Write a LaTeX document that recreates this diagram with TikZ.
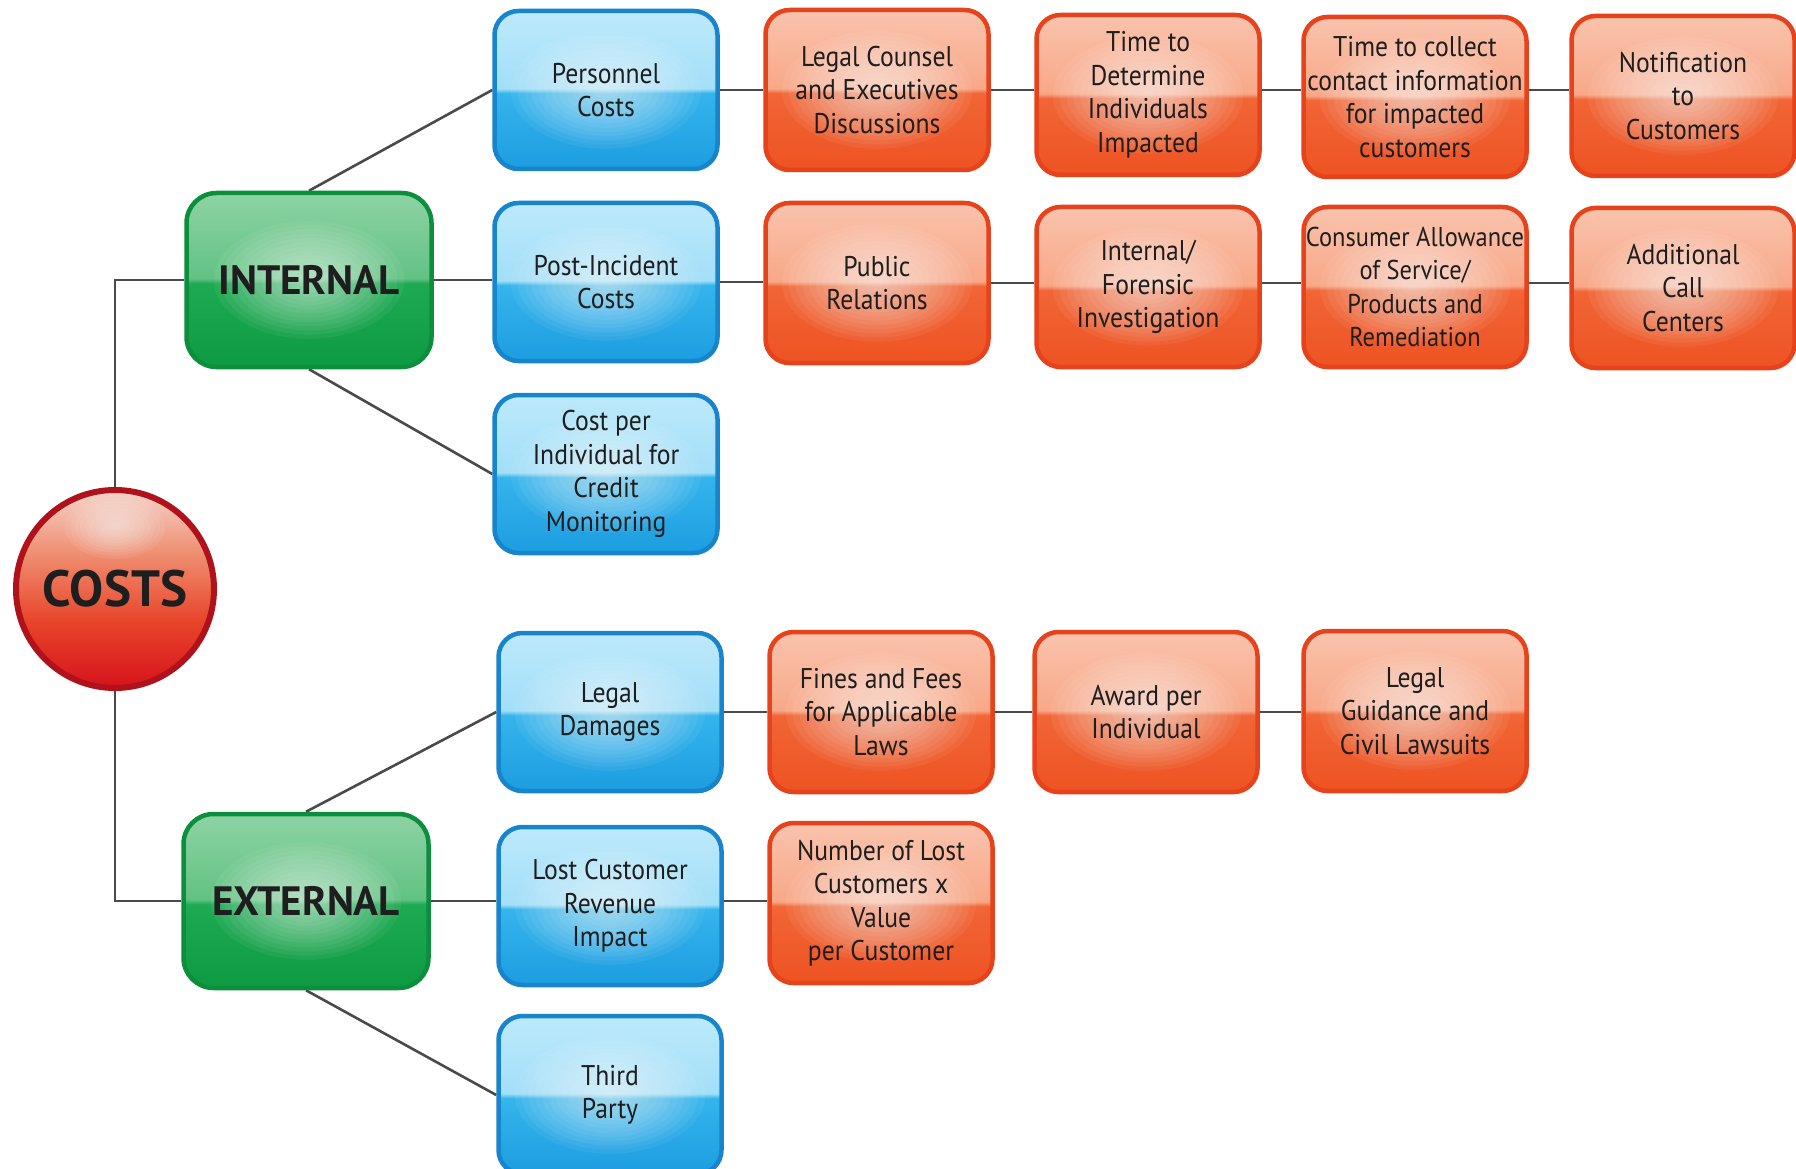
\documentclass[tikz,border=0pt]{standalone}
\usepackage{fontspec}
\setmainfont{PT Sans}[FakeStretch=0.9]
\newfontfamily\labelfont{PT Sans}
\usetikzlibrary{backgrounds}
\definecolor{bluetop}{HTML}{BDE9FB}
\definecolor{bluehi}{HTML}{A2DFF8}
\definecolor{bluemid}{HTML}{35B4EC}
\definecolor{bluelow}{HTML}{1C9DE0}
\definecolor{blueedge}{HTML}{1784CC}
\definecolor{ortop}{HTML}{F9C3AD}
\definecolor{orhi}{HTML}{F8A888}
\definecolor{ormid}{HTML}{F16536}
\definecolor{orlow}{HTML}{EE5323}
\definecolor{oredge}{HTML}{E6421C}
\definecolor{grtop}{HTML}{8ED3A4}
\definecolor{grhi}{HTML}{62C283}
\definecolor{grmid}{HTML}{1DAA52}
\definecolor{grlow}{HTML}{0E9A42}
\definecolor{gredge}{HTML}{0C8E3C}
\definecolor{rdtop}{HTML}{F5D2C8}
\definecolor{rdhi}{HTML}{EF8A6C}
\definecolor{rdmid}{HTML}{E8452B}
\definecolor{rdlow}{HTML}{D6131B}
\definecolor{rdedge}{HTML}{B0121B}
\definecolor{linegray}{HTML}{4A4A4A}
\definecolor{txt}{HTML}{1E1E1E}
\pgfdeclareverticalshading{blueglossy}{100bp}{color(0bp)=(bluelow); color(25bp)=(bluelow); color(49bp)=(bluemid); color(50.5bp)=(bluehi); color(75bp)=(bluetop); color(100bp)=(bluetop)}
\pgfdeclareverticalshading{orglossy}{100bp}{color(0bp)=(orlow); color(25bp)=(orlow); color(49bp)=(ormid); color(50.5bp)=(orhi); color(75bp)=(ortop); color(100bp)=(ortop)}
\pgfdeclareverticalshading{grglossy}{100bp}{color(0bp)=(grlow); color(25bp)=(grlow); color(49bp)=(grmid); color(50.5bp)=(grhi); color(75bp)=(grtop); color(100bp)=(grtop)}
\pgfdeclareverticalshading{rdglossy}{100bp}{color(0bp)=(rdlow); color(25bp)=(rdlow); color(42bp)=(rdmid); color(58bp)=(rdhi); color(75bp)=(rdtop); color(100bp)=(rdtop)}
\tikzset{
  glow/.style={path picture={\foreach \k in {1,...,14}{\fill[white, opacity=#1]
     (path picture bounding box.center) ellipse [x radius=\k*6.8pt, y radius=\k*4.2pt];}}},
  gbox/.style={rectangle, rounded corners=24pt, line width=4.5pt, align=center,
     text=txt, inner sep=1pt, font=\fontsize{28.5}{33.5}\selectfont},
  bluebox/.style={gbox, draw=blueedge, shading=blueglossy, glow=0.055,
     minimum width=223pt, minimum height=158pt},
  orbox/.style={gbox, draw=oredge, shading=orglossy, glow=0.06,
     minimum width=223pt, minimum height=160pt},
  grbox/.style={gbox, draw=gredge, shading=grglossy, glow=0.055,
     minimum width=245pt, minimum height=174pt, rounded corners=30pt,
     font=\labelfont\bfseries\fontsize{41}{46}\selectfont},
  conn/.style={draw=linegray, line width=2.6pt}
}
\begin{document}
\begin{tikzpicture}[x=1pt, y=-1pt]
\useasboundingbox (0,0) rectangle (1796,1169);
% root
\node[circle, minimum size=198pt, draw=rdedge, line width=6pt, shading=rdglossy,
  path picture={\foreach \k in {1,...,10}{\fill[white, opacity=0.07]
     ([yshift=62pt]path picture bounding box.center) ellipse [x radius=\k*5pt, y radius=\k*3.2pt];}},
  font=\labelfont\bfseries\fontsize{51}{55}\selectfont, text=txt] (costs) at (115,589) {COSTS};
% level 1
\node[grbox] (int) at (309,280) {INTERNAL};
\node[grbox] (ext) at (306,901) {EXTERNAL};
% blue
\node[bluebox] (per) at (606,90) {Personnel\\Costs};
\node[bluebox] (post) at (606,282) {Post-Incident\\Costs};
\node[bluebox] (cpi) at (606,474) {Cost per\\Individual for\\Credit\\Monitoring};
\node[bluebox] (lds) at (610,712) {Legal\\Damages};
\node[bluebox] (lcr) at (610,906) {Lost Customer\\Revenue\\Impact};
\node[bluebox] (tp) at (610,1095) {Third\\Party};
% orange row 1
\node[orbox] (lc) at (877,90) {Legal Counsel\\and Executives\\Discussions};
\node[orbox] (ttd) at (1148,95) {Time to\\Determine\\Individuals\\Impacted};
\node[orbox] (ttc) at (1415,97) {Time to collect\\contact information\\for impacted\\customers};
\node[orbox] (notif) at (1683,96) {Notification\\to\\Customers};
% orange row 2
\node[orbox] (pr) at (877,283) {Public\\Relations};
\node[orbox] (ifi) at (1148,287) {Internal/\\Forensic\\Investigation};
\node[orbox, font=\fontsize{27.2}{33.5}\selectfont] (ca) at (1415,287) {Consumer Allowance\\of Service/\\Products and\\Remediation};
\node[orbox] (acc) at (1683,288) {Additional\\Call\\Centers};
% external rows
\node[orbox] (ff) at (881,712) {Fines and Fees\\for Applicable\\Laws};
\node[orbox] (apr) at (1146,712) {Award per\\Individual};
\node[orbox] (lg) at (1415,711) {Legal\\Guidance and\\Civil Lawsuits};
\node[orbox] (nlc) at (881,903) {Number of Lost\\Customers x\\Value\\per Customer};
% connectors
\begin{scope}[on background layer]
\draw[conn] (costs.north) |- (int.west);
\draw[conn] (costs.south) |- (ext.west);
\draw[conn] (int.north) -- (per.west);
\draw[conn] (int.east) -- (int.east -| post.west);
\draw[conn] (int.south) -- (cpi.west);
\draw[conn] (ext.north) -- (lds.west);
\draw[conn] (ext.east) -- (ext.east -| lcr.west);
\draw[conn] (ext.south) -- (tp.west);
\draw[conn] (per.east) -- (per.east -| lc.west);
\draw[conn] (lc.east) -- (lc.east -| ttd.west);
\draw[conn] (lc.east -| ttd.east) -- (lc.east -| ttc.west);
\draw[conn] (lc.east -| ttc.east) -- (lc.east -| notif.west);
\draw[conn] (post.east) -- (post.east -| pr.west);
\draw[conn] (pr.east) -- (pr.east -| ifi.west);
\draw[conn] (pr.east -| ifi.east) -- (pr.east -| ca.west);
\draw[conn] (pr.east -| ca.east) -- (pr.east -| acc.west);
\draw[conn] (lds.east) -- (lds.east -| ff.west);
\draw[conn] (ff.east) -- (ff.east -| apr.west);
\draw[conn] (apr.east) -- (apr.east -| lg.west);
\draw[conn] (ext.east -| lcr.east) -- (ext.east -| nlc.west);
\end{scope}
\end{tikzpicture}
\end{document}
